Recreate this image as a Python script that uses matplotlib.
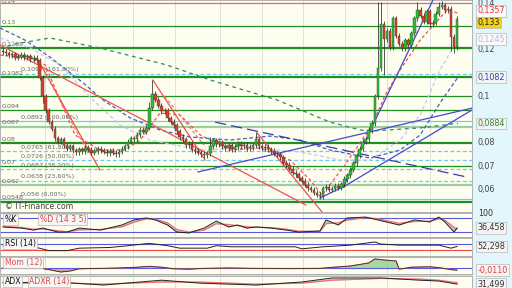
import matplotlib
matplotlib.use("Agg")
import matplotlib.pyplot as plt
import numpy as np

# ---- price data (daily candles, index 0..149) ----
closes = [0.119, 0.1185, 0.1175, 0.118, 0.1165, 0.117, 0.1178, 0.1168, 0.1172, 0.116, 0.1165, 0.1155,
          0.108, 0.1, 0.094, 0.089, 0.086,
          0.082, 0.0805, 0.0815, 0.079,
          0.0775, 0.0785, 0.0768, 0.076, 0.0772, 0.0765, 0.0778, 0.077, 0.0758, 0.0765, 0.0775,
          0.0768, 0.0762, 0.0755, 0.0765, 0.0758, 0.0752, 0.0762, 0.0775, 0.0785,
          0.0805, 0.082, 0.0815, 0.0835, 0.0855, 0.0848, 0.0865,
          0.095, 0.101, 0.0985,
          0.096, 0.0935, 0.094, 0.0905, 0.089, 0.0875, 0.085,
          0.0825, 0.0815, 0.079, 0.0795, 0.077,
          0.0765, 0.0758, 0.0752, 0.0748, 0.0755,
          0.0785, 0.081, 0.0795, 0.0802,
          0.0785, 0.0778, 0.079, 0.0772, 0.0782, 0.0798,
          0.0785, 0.0792, 0.0778, 0.0782, 0.079, 0.0815,
          0.0785, 0.0778, 0.0782, 0.0772, 0.0765,
          0.0755, 0.075, 0.0738, 0.0715,
          0.0705, 0.0688, 0.0672, 0.0665, 0.0648,
          0.0638, 0.062, 0.0605, 0.0598, 0.0585, 0.0578,
          0.0572, 0.0605, 0.0612, 0.0598, 0.0603, 0.0615, 0.0608, 0.0622,
          0.0645, 0.066, 0.0685, 0.0712, 0.0745, 0.0775,
          0.0805, 0.0815, 0.0855, 0.0885,
          0.1, 0.112, 0.131,
          0.1245, 0.128, 0.121, 0.1335, 0.126, 0.1225,
          0.1205, 0.124, 0.122, 0.127,
          0.1335, 0.137, 0.1345, 0.132, 0.1365,
          0.131, 0.1315,
          0.1355, 0.1385, 0.139, 0.137, 0.1375,
          0.1255, 0.121, 0.133]
first_open = 0.1195
big_highs = {48: 0.0975, 49: 0.107, 68: 0.0825, 83: 0.0845, 123: 0.1405, 124: 0.1405,
             136: 0.1405, 143: 0.1405, 144: 0.141, 149: 0.1345}
big_lows = {104: 0.056, 125: 0.109, 147: 0.1195, 148: 0.1185, 13: 0.097}

# date separators (candle index)
month_idx = [13.8, 28.6, 42.7, 56.5, 71.2, 85.0, 98.5, 112.2, 126.0, 140.1]

# horizontal levels
green_levels = [0.13, 0.1208, 0.1082, 0.1, 0.094, 0.08, 0.07, 0.0548]
green_thick = [0.1208, 0.1082, 0.08, 0.0548]
light_green_levels = [0.087, 0.062]
fib_levels = [0.1097, 0.0892, 0.0765, 0.0726, 0.0687, 0.0638, 0.056]
fib_solid = [0.0892, 0.056]
left_labels = [("0,14", 0.1392, 0), ("0,13", 0.13, 0), ("0,1208", 0.1208, 0),
               ("0,1097 (161,80%)", 0.1097, 6.5), ("0,1082", 0.1082, 0), ("0,094", 0.094, 0),
               ("0,0892 (100,00%)", 0.0892, 6.5), ("0,087", 0.087, 0), ("0,08", 0.08, 0),
               ("0,0765 (61,80%)", 0.0765, 6.5), ("0,0726 (50,00%)", 0.0726, 6.5), ("0,07", 0.07, 0),
               ("0,0687 (38,20%)", 0.0687, 6.5), ("0,0638 (23,60%)", 0.0638, 6.5), ("0,062", 0.062, 0),
               ("0,056 (0,00%)", 0.056, 6.5), ("0,0548", 0.0548, 0)]
right_ticks = [0.06, 0.07, 0.08, 0.1, 0.12, 0.14]

# moving averages / bands (index, price)
ma_red_i = [-1, 8.9, 13.8, 18.7, 23.6, 31.8, 40.0, 45.0, 51.5, 58.1, 64.7, 74.5, 84.3, 94.2, 100.8,
            104.7, 112.2, 121.1, 125.4, 130.3, 136.9, 145.7, 149.3]
ma_red_p = [0.1177, 0.1164, 0.1134, 0.0984, 0.0834, 0.0769, 0.0769, 0.0812, 0.0928, 0.0919, 0.0834,
            0.0769, 0.0778, 0.0726, 0.064, 0.0576, 0.0705, 0.0876, 0.1005, 0.1113, 0.1241, 0.137, 0.1357]
ma_blue_i = [-1, 7.2, 15.4, 26.3, 32.8, 41.7, 51.5, 61.4, 74.5, 87.6, 97.5, 107.3, 120.4, 130.3,
             136.9, 143.4, 149.3]
ma_blue_p = [0.1293, 0.1241, 0.1168, 0.1057, 0.0984, 0.0907, 0.0855, 0.0825, 0.0812, 0.0829, 0.0812,
             0.0769, 0.0735, 0.0769, 0.0834, 0.0971, 0.1082]
band_i = [-1, 8.9, 18.7, 29.5, 38.4, 48.2, 64.7, 81.1, 97.5, 110.6, 120.4, 130.3, 136.9, 143.4, 149.3]
band_p = [0.125, 0.1207, 0.1134, 0.0984, 0.0876, 0.0812, 0.0769, 0.0778, 0.0761, 0.0726, 0.0726,
          0.0812, 0.0919, 0.1113, 0.1245]
ma_green_i = [-1, 5.6, 15.4, 31.8, 53.8, 67.9, 89.9, 107.3, 117.2, 121.4, 136.9, 149.3]
ma_green_p = [0.1207, 0.1228, 0.125, 0.1207, 0.1134, 0.107, 0.0984, 0.0889, 0.0855, 0.0851, 0.0864, 0.0884]

# trend lines ((i0, p0), (i1, p1))
red_lines = [((-1, 0.122), (99.4, 0.0533)), ((11.5, 0.1155), (31.8, 0.0683)),
             ((49.2, 0.1069), (66.3, 0.0726)), ((83.4, 0.0842), (104.7, 0.0503))]
red_dash_lines = [((12.1, 0.1143), (27.9, 0.0756)), ((53.0, 0.1), (66.0, 0.079))]
blue_lines = [((64, 0.0675), (153.9, 0.0949)), ((111.6, 0.061), (141.1, 0.1413)),
              ((111.6, 0.061), (153.9, 0.0941)), ((104, 0.0563), (112.2, 0.0615))]
blue_down_line = ((69.6, 0.0889), (152.3, 0.0653))
top_red = 0.1401

# indicators
stoch_i = [0, 6, 10, 13, 18, 21, 25, 32, 39, 43, 47, 50, 54, 57, 61, 66, 70, 74, 77, 80, 83, 88, 93,
           97, 104, 106, 110, 113, 119, 123, 130, 135, 140, 143, 145, 148, 149]
stoch_k = [41, 36, 27, 36, 18, 18, 36, 27, 50, 73, 82, 73, 50, 18, 14, 36, 68, 41, 50, 36, 41, 36, 27,
           18, 23, 73, 50, 82, 86, 73, 50, 73, 64, 86, 64, 18, 36.5]
stoch_d = [44, 39, 31, 32, 24, 19, 28, 30, 42, 63, 78, 77, 60, 30, 18, 27, 56, 52, 47, 42, 40, 38, 31,
           22, 21, 56, 60, 72, 84, 78, 58, 66, 67, 78, 72, 40, 32]
rsi_i = [0, 9, 15, 21, 25, 35, 41, 48, 54, 58, 67, 70, 75, 83, 96, 98, 105, 114, 122, 124, 130, 143, 147, 149]
rsi_v = [57, 57, 22, 22, 40, 45, 58, 75, 58, 40, 40, 58, 50, 50, 50, 35, 50, 62, 85, 70, 62, 62, 40, 52.3]
mom_i = [0, 12, 15, 19, 22, 25, 32, 38, 43, 48, 52, 56, 61, 66, 74, 83, 94, 104, 107, 114, 120, 122,
         125, 129, 130, 134, 140, 143, 147, 149]
mom_v = [0, 0, -0.008, -0.02, -0.015, -0.004, -0.002, 0, 0.003, 0.008, 0.004, -0.004, -0.006, -0.002,
         0, -0.002, -0.003, -0.002, 0.002, 0.01, 0.025, 0.045, 0.04, 0.035, -0.006, 0.004, 0.006,
         0.002, -0.008, -0.011]
adx_i = [0, 20, 33, 52, 65, 83, 98, 108, 124, 137, 143, 149]
adx_v = [34.5, 34, 30, 38, 33, 30, 35, 41.7, 41.7, 38, 36.7, 31.5]
adxr_v = [33, 33.5, 31.5, 35, 35, 31.5, 33, 38, 41, 40, 38, 34]

# ---- figure ----
W, H = 512, 288
fig = plt.figure(figsize=(5.12, 2.88), dpi=100)
fig.patch.set_facecolor("#d4d4d4")
PW = 472 / W
bg = "#fdfdf0"
right_bg = "#e2f6fb"
fig.patches.append(plt.Rectangle((PW, 0), 1 - PW, 1, transform=fig.transFigure,
                                 facecolor=right_bg, edgecolor="none", zorder=-1))


def panel(y0, y1):
    a = fig.add_axes([0, 1 - y1 / H, PW, (y1 - y0) / H])
    a.set_facecolor(bg)
    a.set_xlim(-1, 153.9)
    a.set_xticks([])
    a.set_yticks([])
    for s in a.spines.values():
        s.set_color("#a8a8a8")
        s.set_linewidth(0.6)
    for m in month_idx:
        a.axvline(m, color="#dcdcdc", lw=0.6, zorder=0)
    return a


def right_label(a, y, text, color="#333333", box=None):
    kw = dict(xycoords=("axes fraction", "data"), fontsize=5.8, color=color, va="center",
              ha="left", annotation_clip=False)
    if box:
        kw["bbox"] = dict(boxstyle="square,pad=0.15", fc=box, ec="#b8b8b8", lw=0.5)
    a.annotate(text, (1.012, y), **kw)


ax = panel(0, 212)
ax.set_ylim(0.1413 - 212 / 2330, 0.1413)

for lv in green_levels:
    ax.axhline(lv, color="#1f8f1f", lw=1.6 if lv in green_thick else 0.9, zorder=1)
for lv in light_green_levels:
    ax.axhline(lv, color="#9ccf9c", lw=1.6, zorder=1)
for lv in fib_levels:
    ax.axhline(lv, color="#6ec8ef", lw=0.9, ls="-" if lv in fib_solid else (0, (3, 2)), zorder=1)
ax.axhline(top_red, color="#f06060", lw=0.9, zorder=1)

for txt, lv, off in left_labels:
    ax.text(-0.6 + off, lv + 0.0006, txt, fontsize=4.6, color="#666666", va="bottom", ha="left", zorder=2)

ax.plot(ma_green_i, ma_green_p, color="#2e8b57", lw=0.9, ls=(0, (3, 3)), zorder=3)
ax.plot(band_i, band_p, color="#c4c8f0", lw=0.9, ls=(0, (3, 2)), zorder=3)
ax.plot(ma_blue_i, ma_blue_p, color="#4060c0", lw=0.9, ls=(0, (3, 2)), zorder=3)
ax.plot(ma_red_i, ma_red_p, color="#f05050", lw=0.9, ls=(0, (2.5, 2)), zorder=3)
for (a0, a1) in red_lines:
    ax.plot([a0[0], a1[0]], [a0[1], a1[1]], color="#f05050", lw=0.9, zorder=3)
for (a0, a1) in red_dash_lines:
    ax.plot([a0[0], a1[0]], [a0[1], a1[1]], color="#f07070", lw=0.8, ls=(0, (3, 2)), zorder=3)
for (a0, a1) in blue_lines:
    ax.plot([a0[0], a1[0]], [a0[1], a1[1]], color="#4848d0", lw=0.9, zorder=3)
ax.plot([blue_down_line[0][0], blue_down_line[1][0]], [blue_down_line[0][1], blue_down_line[1][1]],
        color="#3a3ab0", lw=0.9, ls=(0, (9, 4)), zorder=3)

# candles
idx = np.arange(len(closes))
opens = np.array([first_open] + closes[:-1])
cl = np.array(closes)
hi = np.maximum(opens, cl) + 0.0011
lo = np.minimum(opens, cl) - 0.0011
for k, v in big_highs.items():
    hi[k] = v
for k, v in big_lows.items():
    lo[k] = v
up = cl >= opens
ax.vlines(idx, lo, hi, color="#3a3a3a", lw=0.6, zorder=4)
body = np.maximum(np.abs(cl - opens), 0.0004)
ax.bar(idx, body, bottom=np.minimum(opens, cl), width=0.85,
       color=np.where(up, "#2fbf2f", "#d8402a"), edgecolor="#3a3a3a", linewidth=0.3, zorder=5)

ax.text(0.5, 0.0508, "\u00a9 IT-Finance.com", fontsize=5.6, color="#444444", va="bottom", zorder=6)

for t in right_ticks:
    right_label(ax, t, ("%g" % t).replace(".", ","), "#444444")
right_label(ax, 0.1366, "0,1357", "#e03030", "#fafafa")
right_label(ax, 0.1317, "0,133", "#222222", "#f2cf1a")
right_label(ax, 0.1245, "0,1245", "#b8b8e8", "#fafafa")
right_label(ax, 0.1082, "0,1082", "#3344aa", "#f4f4f4")
right_label(ax, 0.0884, "0,0884", "#2a8a2a", "#f4f4f4")

box = dict(boxstyle="square,pad=0.15", fc="#f6f6f6", ec="#b8b8b8", lw=0.5)

# stochastic
sx = panel(213, 237)
sx.set_ylim(-4.5, 104.5)
sx.axhline(80, color="#5a5ae0", lw=0.8)
sx.axhline(20, color="#5a5ae0", lw=0.8)
sx.fill_between(stoch_i, stoch_k, stoch_d, color="#9a9ab8", alpha=0.6, lw=0)
sx.plot(stoch_i, stoch_d, color="#f07070", lw=0.9)
sx.plot(stoch_i, stoch_k, color="#222222", lw=0.7)
sx.text(0.5, 96, "%K", fontsize=5.6, color="#111111", va="top", bbox=box)
sx.text(12, 96, "%D (14 3 5)", fontsize=5.6, color="#e04040", va="top", bbox=box)
right_label(sx, 100, "100", "#333333")
right_label(sx, 36.5, "36,458", "#333333", "#f4f4f4")

# RSI
rx = panel(238, 256)
rx.set_ylim(-17, 114)
rx.axhline(70, color="#5a5ae0", lw=0.8)
rx.axhline(30, color="#f04848", lw=0.8)
rx.fill_between(rsi_i, rsi_v, 30, where=np.array(rsi_v) < 30, color="#888888", alpha=0.6, lw=0)
rx.fill_between(rsi_i, rsi_v, 70, where=np.array(rsi_v) > 70, color="#888888", alpha=0.6, lw=0)
rx.plot(rsi_i, rsi_v, color="#222222", lw=0.7)
rx.text(0.5, 108, "RSI (14)", fontsize=5.6, color="#111111", va="top", bbox=box)
right_label(rx, 52.3, "52,298", "#333333", "#f4f4f4")

# momentum
mx = panel(257, 274)
mx.set_ylim(-0.03, 0.055)
mx.axhline(0, color="#5a5ae0", lw=0.8)
mv = np.array(mom_v)
mx.fill_between(mom_i, mv, 0, where=mv >= 0, color="#8fd08f", alpha=0.8, lw=0, interpolate=True)
mx.fill_between(mom_i, mv, 0, where=mv <= 0, color="#d09090", alpha=0.8, lw=0, interpolate=True)
mx.plot(mom_i, mv, color="#f07070", lw=0.9)
mx.plot(mom_i, mv, color="#222222", lw=0.5)
mx.text(0.5, 0.05, "Mom (12)", fontsize=5.6, color="#e05050", va="top", bbox=box)
right_label(mx, -0.011, "-0,0110", "#e04040", "#f4f4f4")

# ADX (cut by bottom of figure)
dx = panel(276, 300)
dx.set_ylim(5, 45)
dx.fill_between(adx_i, adx_v, adxr_v, color="#b0a0c0", alpha=0.6, lw=0)
dx.plot(adx_i, adxr_v, color="#f07070", lw=0.9)
dx.plot(adx_i, adx_v, color="#222222", lw=0.7)
dx.text(0.5, 43, "ADX", fontsize=5.6, color="#111111", va="top", bbox=box)
dx.text(8.5, 43, "ADXR (14)", fontsize=5.6, color="#e04040", va="top", bbox=box)
right_label(dx, 31.5, "31,499", "#333333", "#f4f4f4")

fig.savefig("out.png", dpi=100, facecolor=fig.get_facecolor())
